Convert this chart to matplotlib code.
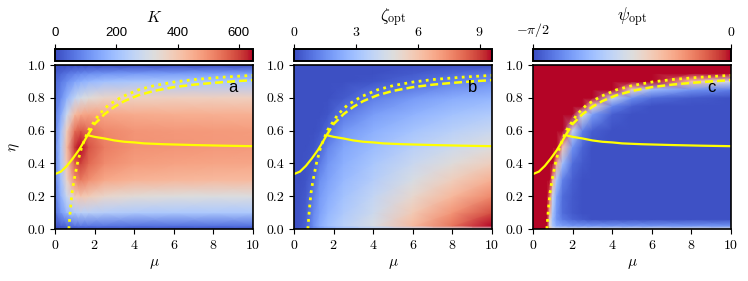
import numpy as np
import matplotlib.pyplot as plt

plt.rcParams['font.family'] = 'serif'
plt.rcParams['font.serif'] = ['cmr10']
plt.rcParams['mathtext.fontset'] = 'cm'
plt.rcParams['axes.formatter.use_mathtext'] = True
plt.rcParams['font.size'] = 10

# grid for panels a and b
mu_grid = [0, 0.3, 0.6, 1.0, 1.3, 1.7, 2.5, 4, 6, 8, 10]
eta_grid = [0, 0.02, 0.1, 0.2, 0.3, 0.4, 0.5, 0.6, 0.7, 0.8, 0.9, 0.95, 1.0]

K_vals = [
    [5, 5, 5, 5, 5, 5, 5, 5, 5, 5, 5],
    [15, 30, 45, 60, 65, 65, 65, 60, 60, 60, 60],
    [50, 120, 180, 230, 245, 245, 235, 225, 220, 220, 220],
    [70, 170, 280, 380, 400, 385, 355, 335, 325, 320, 320],
    [80, 200, 360, 500, 530, 500, 460, 440, 432, 428, 425],
    [85, 215, 400, 565, 600, 555, 505, 478, 470, 466, 462],
    [85, 220, 420, 610, 645, 580, 525, 497, 490, 486, 482],
    [80, 200, 380, 545, 575, 545, 510, 492, 487, 483, 480],
    [70, 150, 280, 420, 455, 470, 462, 452, 448, 445, 442],
    [55, 100, 170, 260, 300, 330, 360, 370, 375, 375, 375],
    [40, 70, 100, 140, 160, 180, 200, 212, 215, 215, 215],
    [25, 40, 60, 80, 90, 100, 110, 118, 122, 124, 125],
    [5, 5, 5, 5, 5, 5, 5, 5, 5, 5, 5],
]

zeta_vals = [
    [0.2, 0.3, 0.5, 1.2, 1.6, 2.0, 2.6, 3.2, 3.8, 4.3, 4.7],
    [0.1, 0.2, 0.5, 1.6, 2.3, 2.9, 3.6, 4.6, 6.3, 8.0, 9.6],
    [0.1, 0.2, 0.4, 1.4, 2.0, 2.6, 3.3, 4.2, 5.8, 7.3, 8.7],
    [0.1, 0.15, 0.3, 1.1, 1.8, 2.3, 3.0, 3.9, 5.2, 6.4, 7.6],
    [0.1, 0.1, 0.2, 0.6, 1.5, 2.0, 2.7, 3.5, 4.6, 5.6, 6.6],
    [0.1, 0.1, 0.15, 0.3, 1.0, 1.7, 2.4, 3.2, 4.1, 4.9, 5.6],
    [0.1, 0.1, 0.1, 0.2, 0.5, 1.3, 2.1, 2.8, 3.6, 4.2, 4.8],
    [0.1, 0.1, 0.1, 0.1, 0.2, 0.6, 1.7, 2.4, 3.1, 3.6, 4.1],
    [0.1, 0.1, 0.1, 0.1, 0.1, 0.2, 1.0, 1.9, 2.5, 3.0, 3.4],
    [0.1, 0.1, 0.1, 0.1, 0.1, 0.1, 0.3, 1.1, 1.8, 2.3, 2.6],
    [0.1, 0.1, 0.1, 0.1, 0.1, 0.1, 0.1, 0.2, 0.6, 1.2, 1.6],
    [0.1, 0.1, 0.1, 0.1, 0.1, 0.1, 0.1, 0.1, 0.3, 0.6, 0.9],
    [0.1, 0.1, 0.1, 0.1, 0.1, 0.1, 0.1, 0.1, 0.1, 0.1, 0.1],
]

# finer grid for panel c (sharp edge)
mu_c = [0, 0.5, 0.7, 0.85, 1.0, 1.2, 1.5, 2.0, 2.5, 3, 4, 5, 6, 8, 10]
eta_c = [0, 0.02, 0.06, 0.1, 0.2, 0.3, 0.4, 0.5, 0.6, 0.7, 0.75, 0.8, 0.85, 0.9, 0.95, 1.0]

psi_vals = [
    [0, 0, 0, -0.55, -0.75, -0.8, -0.8, -0.8, -0.8, -0.8, -0.8, -0.8, -0.8, -0.8, -0.8],
    [0, 0, 0, -0.75, -1.05, -1.2, -1.25, -1.3, -1.3, -1.3, -1.3, -1.3, -1.3, -1.3, -1.3],
    [0, 0, 0, -0.7, -1.1, -1.3, -1.4, -1.48, -1.52, -1.55, -1.55, -1.55, -1.55, -1.55, -1.55],
    [0, 0, 0, -0.5, -1.05, -1.3, -1.45, -1.52, -1.55, -1.55, -1.55, -1.55, -1.55, -1.55, -1.55],
    [0, 0, 0, -0.3, -0.9, -1.25, -1.45, -1.52, -1.55, -1.55, -1.55, -1.55, -1.55, -1.55, -1.55],
    [0, 0, 0, 0, -0.5, -1.05, -1.38, -1.5, -1.55, -1.55, -1.55, -1.55, -1.55, -1.55, -1.55],
    [0, 0, 0, 0, 0, -0.5, -1.1, -1.45, -1.52, -1.55, -1.55, -1.55, -1.55, -1.55, -1.55],
    [0, 0, 0, 0, 0, 0, -0.6, -1.3, -1.48, -1.55, -1.55, -1.55, -1.55, -1.55, -1.55],
    [0, 0, 0, 0, 0, 0, 0, -0.9, -1.38, -1.5, -1.55, -1.55, -1.55, -1.55, -1.55],
    [0, 0, 0, 0, 0, 0, 0, 0, -0.8, -1.25, -1.5, -1.55, -1.55, -1.55, -1.55],
    [0, 0, 0, 0, 0, 0, 0, 0, 0, -0.7, -1.35, -1.5, -1.55, -1.55, -1.55],
    [0, 0, 0, 0, 0, 0, 0, 0, 0, 0, -0.9, -1.32, -1.45, -1.52, -1.55],
    [0, 0, 0, 0, 0, 0, 0, 0, 0, 0, 0, -0.7, -1.1, -1.3, -1.38],
    [0, 0, 0, 0, 0, 0, 0, 0, 0, 0, 0, 0, 0, -0.6, -0.85],
    [0, 0, 0, 0, 0, 0, 0, 0, 0, 0, 0, 0, 0, 0, 0],
    [0, 0, 0, 0, 0, 0, 0, 0, 0, 0, 0, 0, 0, 0, 0],
]

# yellow curves
mu_solid = [0, 0.3, 0.6, 0.9, 1.2, 1.45, 1.65, 2.0, 2.5, 3.0, 3.5, 4.0, 4.5, 5.5, 7, 8.5, 10]
eta_solid = [0.335, 0.35, 0.385, 0.43, 0.48, 0.53, 0.572, 0.562, 0.552, 0.54, 0.532,
             0.528, 0.522, 0.517, 0.512, 0.508, 0.505]
mu_dashed = [1.65, 2.0, 2.5, 3.0, 3.5, 4.2, 5.0, 6.0, 7.0, 8.0, 9.0, 10]
eta_dashed = [0.572, 0.64, 0.70, 0.745, 0.78, 0.815, 0.842, 0.865, 0.88, 0.891, 0.9, 0.908]
mu_dotted = [0.7, 0.75, 0.8, 0.86, 0.95, 1.05, 1.15, 1.35, 1.68, 2.2, 2.7, 3.4, 4.2,
             5.0, 6.0, 7.0, 8.4, 10]
eta_dotted = [0.0, 0.08, 0.15, 0.22, 0.29, 0.35, 0.41, 0.50, 0.60, 0.695, 0.756, 0.807,
              0.848, 0.874, 0.896, 0.911, 0.925, 0.937]

panels = [
    (mu_grid, eta_grid, K_vals, 0, 646, [0, 200, 400, 600], ['0', '200', '400', '600'], r'$K$', 'a'),
    (mu_grid, eta_grid, zeta_vals, 0, 9.6, [0, 3, 6, 9], ['$0$', '$3$', '$6$', '$9$'],
     r'$\zeta_{\rm opt}$', 'b'),
    (mu_c, eta_c, psi_vals, -np.pi / 2, 0, [-np.pi / 2, 0], [r'$-\pi/2$', '$0$'],
     r'$\psi_{\rm opt}$', 'c'),
]
label_sizes = [11.5, 12.5, 12.5]
label_pads = [4, 4, 0.5]

fig = plt.figure(figsize=(7.48, 2.81), dpi=100)
W, H = 748, 281
lefts = [55, 294, 533]

for i, (mx, ey, vals, vmin, vmax, cticks, clabels, clabel, letter) in enumerate(panels):
    ax = fig.add_axes([lefts[i] / W, (H - 229) / H, 198 / W, 164 / H])
    X, Y = np.meshgrid(mx, ey)
    mesh = ax.pcolormesh(X, Y, np.array(vals), shading='gouraud', cmap='coolwarm',
                         vmin=vmin, vmax=vmax, rasterized=True)
    ax.plot(mu_solid, eta_solid, color='yellow', lw=1.6)
    ax.plot(mu_dashed, eta_dashed, color='yellow', lw=1.8, linestyle=(0, (3.2, 1.6)))
    ax.plot(mu_dotted, eta_dotted, color='yellow', lw=2.0, linestyle=(0, (1, 1.6)))
    ax.set_xlim(0, 10)
    ax.set_ylim(0, 1)
    ax.set_xticks([0, 2, 4, 6, 8, 10])
    ax.set_yticks([0, 0.2, 0.4, 0.6, 0.8, 1.0])
    ax.set_yticklabels(['0.0', '0.2', '0.4', '0.6', '0.8', '1.0'])
    ax.set_xlabel(r'$\mu$', fontsize=11)
    if i == 0:
        ax.set_ylabel(r'$\eta$', fontsize=11)
    for s in ax.spines.values():
        s.set_linewidth(1.2)
    ax.text(9.0, 0.865, letter, family='Liberation Sans', fontsize=12,
            ha='center', va='center')

    cax = fig.add_axes([lefts[i] / W, (H - 61) / H, 198 / W, 12 / H])
    cb = fig.colorbar(mesh, cax=cax, orientation='horizontal')
    cb.outline.set_linewidth(1.4)
    cax.xaxis.set_ticks_position('top')
    cax.xaxis.set_label_position('top')
    cb.set_ticks(cticks)
    cb.set_ticklabels(clabels)
    cb.set_label(clabel, fontsize=label_sizes[i], labelpad=label_pads[i])
    if i == 0:
        for lab in cax.get_xticklabels():
            lab.set_family('Liberation Sans')
            lab.set_fontsize(9.5)

plt.savefig('out.png', dpi=100)
